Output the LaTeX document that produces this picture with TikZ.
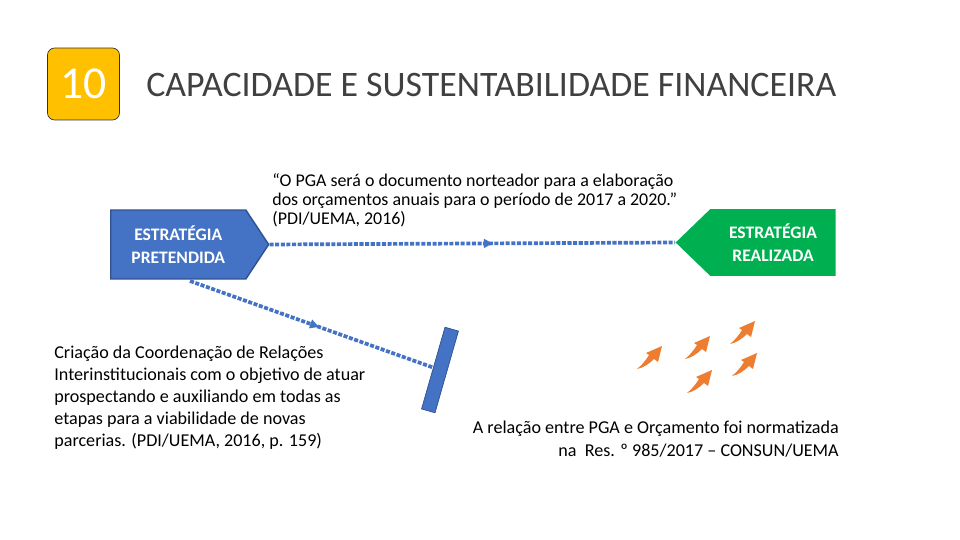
\documentclass[tikz,border=0pt]{standalone}
\usepackage{fontspec}
\setmainfont{Carlito}
\usetikzlibrary{shapes.symbols,arrows.meta,decorations.markings}
\definecolor{ouro}{RGB}{255, 192, 0}
\definecolor{azul}{RGB}{68, 114, 196}
\definecolor{azulesc}{RGB}{47, 82, 143}
\definecolor{verde}{RGB}{0, 176, 80}
\definecolor{laranja}{RGB}{237, 125, 49}
\definecolor{cinza}{RGB}{64, 64, 64}

\begin{document}
\begin{tikzpicture}[x=0.02cm, y=-0.02cm,
    seta/.style={signal, fill=#1, inner sep=0pt, text=white,
                 font=\fontsize{10}{13}\selectfont\bfseries, align=center},
    pont/.style={azul, line width=2.1pt, dash pattern=on 2.3pt off 0.9pt,
                 postaction={decorate}, decoration={markings,
                 mark=at position #1 with {\arrow[solid]{Triangle[length=5pt,width=5pt]}}}},
    txt/.style={inner sep=0pt, align=left, text=black,
                font=\fontsize{10.3}{12.4}\selectfont}
]
\useasboundingbox (0,0) rectangle (960,540);
\node[draw=black!80, fill=ouro, rounded corners=4pt, minimum size=1.44cm,
      text=white, font=\fontsize{26}{26}\selectfont] (num) at (83.5,84) {10};
\node[anchor=west, inner sep=0pt, text=cinza, font=\fontsize{20.4}{21}\selectfont]
      (titulo) at (146,85) {CAPACIDADE E SUSTENTABILIDADE FINANCEIRA};

\node[seta=azul, draw=azulesc, line width=0.8pt, signal to=east, signal pointer angle=113,
      minimum width=3.16cm, minimum height=1.38cm, anchor=west] (pretendida) at (110,244.5)
      {ESTRAT\'EGIA\\PRETENDIDA};
\node[seta=verde, signal to=west, signal pointer angle=88,
      minimum width=3.2cm, minimum height=1.34cm, anchor=east] (realizada) at (836,242.5)
      {ESTRAT\'EGIA\\REALIZADA};

\node[draw=azulesc, fill=azul, minimum width=0.28cm, minimum height=1.7cm,
      inner sep=0pt, rotate=-16] (barreira) at (440,370) {};

\coordinate (inicio) at (190,281);
\draw[pont=0.55] (pretendida.east) -- (realizada.west);
\draw[pont=0.53] (inicio) -- (barreira);

\node[txt, anchor=north west, font=\fontsize{10.2}{10.8}\selectfont] (citacao) at (272,173)
      {``O PGA ser\'a o documento norteador para a elabora\c{c}\~ao\\
       dos or\c{c}amentos anuais para o per\'iodo de 2017 a 2020.''\\
       (PDI/UEMA, 2016)};
\node[txt, anchor=north west] (criacao) at (54,346)
      {Cria\c{c}\~ao da Coordena\c{c}\~ao de Rela\c{c}\~oes\\
       Interinstitucionais com o objetivo de atuar\\
       prospectando e auxiliando em todas as\\
       etapas para a viabilidade de novas\\
       parcerias. (PDI/UEMA, 2016, p. 159)};
\node[txt, anchor=north east, align=right, font=\fontsize{10.3}{12.6}\selectfont] (relacao) at (839,421)
      {A rela\c{c}\~ao entre PGA e Or\c{c}amento foi normatizada\\
       na\ \ Res. º 985/2017 -- CONSUN/UEMA};

\foreach \x/\y in {637/369, 685/359, 730/344, 687/393, 732/376}
  \fill[laranja, shift={(\x,\y)}] (0,0) .. controls (5,-4) and (9,-9) .. (12,-14)
      -- (9,-16) -- (25,-23) -- (21,-7) -- (17,-10)
      .. controls (12,-5) and (6,-1) .. (0,0) -- cycle;
\end{tikzpicture}
\end{document}
